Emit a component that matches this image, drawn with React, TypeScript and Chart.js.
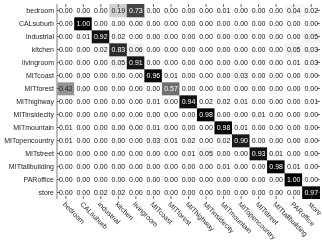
import React, { useEffect, useRef } from "react";
import { Chart, registerables } from "chart.js";

Chart.register(...registerables);

const classes = [
  "bedroom", "CALsuburb", "industrial", "kitchen", "livingroom", "MITcoast", "MITforest",
  "MIThighway", "MITinsidecity", "MITmountain", "MITopencountry", "MITstreet",
  "MITtallbuilding", "PARoffice", "store",
];

const bedroom = [0.0, 0.0, 0.0, 0.19, 0.73, 0.0, 0.0, 0.0, 0.0, 0.01, 0.0, 0.0, 0.0, 0.04, 0.02];
const calsuburb = [0.0, 1.0, 0.0, 0.0, 0.0, 0.0, 0.0, 0.0, 0.0, 0.0, 0.0, 0.0, 0.0, 0.0, 0.0];
const industrial = [0.0, 0.01, 0.92, 0.02, 0.0, 0.0, 0.0, 0.0, 0.0, 0.0, 0.0, 0.0, 0.0, 0.0, 0.05];
const kitchen = [0.0, 0.0, 0.02, 0.83, 0.06, 0.0, 0.0, 0.0, 0.0, 0.0, 0.0, 0.0, 0.0, 0.05, 0.03];
const livingroom = [0.0, 0.0, 0.0, 0.05, 0.91, 0.0, 0.0, 0.0, 0.0, 0.0, 0.0, 0.0, 0.0, 0.01, 0.03];
const mitcoast = [0.0, 0.0, 0.0, 0.0, 0.0, 0.96, 0.01, 0.0, 0.0, 0.0, 0.03, 0.0, 0.0, 0.0, 0.0];
const mitforest = [0.42, 0.0, 0.0, 0.0, 0.0, 0.0, 0.57, 0.0, 0.0, 0.0, 0.0, 0.0, 0.0, 0.0, 0.0];
const mithighway = [0.0, 0.0, 0.0, 0.0, 0.0, 0.01, 0.0, 0.94, 0.02, 0.02, 0.01, 0.0, 0.0, 0.0, 0.01];
const mitinsidecity = [0.0, 0.0, 0.0, 0.0, 0.0, 0.0, 0.0, 0.0, 0.98, 0.0, 0.0, 0.01, 0.0, 0.0, 0.0];
const mitmountain = [0.01, 0.0, 0.0, 0.0, 0.0, 0.01, 0.0, 0.0, 0.0, 0.98, 0.01, 0.0, 0.0, 0.0, 0.0];
const mitopencountry = [0.01, 0.0, 0.0, 0.0, 0.0, 0.03, 0.01, 0.02, 0.0, 0.02, 0.9, 0.0, 0.0, 0.0, 0.0];
const mitstreet = [0.0, 0.0, 0.0, 0.0, 0.0, 0.0, 0.0, 0.01, 0.05, 0.0, 0.0, 0.93, 0.01, 0.0, 0.0];
const mittallbuilding = [0.0, 0.0, 0.0, 0.0, 0.0, 0.0, 0.0, 0.0, 0.0, 0.01, 0.0, 0.0, 0.98, 0.01, 0.0];
const paroffice = [0.0, 0.0, 0.0, 0.0, 0.0, 0.0, 0.0, 0.0, 0.0, 0.0, 0.0, 0.0, 0.0, 1.0, 0.0];
const store = [0.0, 0.0, 0.02, 0.02, 0.0, 0.0, 0.0, 0.0, 0.0, 0.0, 0.0, 0.0, 0.0, 0.0, 0.97];

const matrix = [
  bedroom, calsuburb, industrial, kitchen, livingroom, mitcoast, mitforest, mithighway,
  mitinsidecity, mitmountain, mitopencountry, mitstreet, mittallbuilding, paroffice, store,
];

const FONT = "'Liberation Sans', Arial, sans-serif";

function grey(v: number) {
  const g = Math.round(255 * (1 - v));
  return `rgb(${g},${g},${g})`;
}

const overlay = {
  id: "overlay",
  afterDatasetsDraw(chart: any) {
    const ctx = chart.ctx;
    const area = chart.chartArea;
    const xs = chart.scales.x;
    const ys = chart.scales.y;
    ctx.save();
    // cell values
    ctx.font = `7px ${FONT}`;
    ctx.textAlign = "center";
    ctx.textBaseline = "middle";
    chart.data.datasets.forEach((ds: any, di: number) => {
      const meta = chart.getDatasetMeta(di);
      meta.data.forEach((el: any, ci: number) => {
        const v = matrix[di][ci];
        const p = el.getProps(["x", "y", "base"], true);
        ctx.fillStyle = v > 0.5 ? "#ffffff" : "#111111";
        ctx.fillText(v.toFixed(2), p.x, (p.y + p.base) / 2 + 0.5);
      });
    });
    // left spine
    ctx.strokeStyle = "#a8a8a8";
    ctx.lineWidth = 1.5;
    ctx.beginPath();
    ctx.moveTo(area.left, area.top);
    ctx.lineTo(area.left, area.bottom);
    ctx.stroke();
    // inward ticks
    ctx.strokeStyle = "#444444";
    ctx.lineWidth = 0.8;
    const tl = 3;
    ctx.beginPath();
    classes.forEach((_, i) => {
      const x = xs.getPixelForValue(i);
      ctx.moveTo(x, area.top);
      ctx.lineTo(x, area.top + tl);
      ctx.moveTo(x, area.bottom);
      ctx.lineTo(x, area.bottom - tl);
      const y = ys.getPixelForValue(i);
      ctx.moveTo(area.left, y);
      ctx.lineTo(area.left + tl, y);
      ctx.moveTo(area.right, y);
      ctx.lineTo(area.right - tl, y);
    });
    ctx.stroke();
    // y labels
    ctx.font = `7px ${FONT}`;
    ctx.fillStyle = "#222222";
    ctx.textAlign = "right";
    ctx.textBaseline = "middle";
    classes.forEach((c, i) => {
      ctx.fillText(c, area.left - 3, ys.getPixelForValue(i) + 0.5);
    });
    // x labels rotated 45deg downwards to the right
    ctx.textAlign = "left";
    ctx.textBaseline = "top";
    classes.forEach((c, i) => {
      const x = xs.getPixelForValue(i);
      ctx.save();
      ctx.translate(x + 0.5, area.bottom + 2);
      ctx.rotate(Math.PI / 4);
      ctx.fillText(c, 0, 0);
      ctx.restore();
    });
    ctx.restore();
  },
};

export default function App() {
  const ref = useRef<HTMLCanvasElement>(null);
  useEffect(() => {
    document.body.style.margin = "0";
    const datasets = matrix.map((row, r) => ({
      label: classes[r],
      data: row.map(() => [r - 0.5, r + 0.5]),
      backgroundColor: row.map((v) => grey(v)),
      borderWidth: 0,
      barPercentage: 1,
      categoryPercentage: 1,
      grouped: false,
    }));
    const chart = new Chart(ref.current as HTMLCanvasElement, {
      type: "bar",
      data: { labels: classes, datasets: datasets as any },
      options: {
        animation: false,
        responsive: true,
        maintainAspectRatio: false,
        layout: { padding: { left: 57, top: 4, right: 2, bottom: 46 } },
        plugins: { legend: { display: false }, tooltip: { enabled: false } },
        scales: {
          x: { type: "category", display: false, offset: true },
          y: { type: "linear", display: false, min: -0.5, max: 14.5, reverse: true },
        },
      },
      plugins: [overlay],
    });
    return () => chart.destroy();
  }, []);
  return (
    <div style={{ width: 322, height: 245, position: "relative" }}>
      <canvas ref={ref} />
    </div>
  );
}
